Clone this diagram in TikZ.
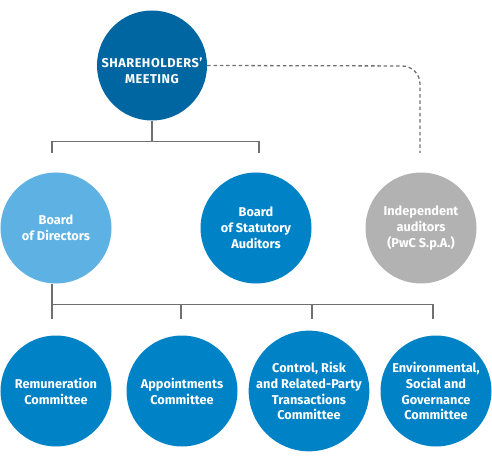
\documentclass[tikz,border=0pt]{standalone}
\usepackage{fontspec}
\setmainfont{Fira Sans}
\definecolor{cdark}{HTML}{0066A1}
\definecolor{cmid}{HTML}{0082C6}
\definecolor{clight}{HTML}{5DB2E3}
\definecolor{cgrey}{HTML}{B2B2B2}
\definecolor{cline}{HTML}{707070}
\begin{document}
\begin{tikzpicture}[x=1bp,y=-1bp,
  org/.style={circle,minimum size=111bp,inner sep=0pt,text=white,align=center,
    font=\fontsize{12.8}{16}\selectfont\bfseries},
  link/.style={draw=cline,line width=1.3bp},
  dlink/.style={draw=cline,line width=1.3bp,dash pattern=on 3.5bp off 2.8bp}]
\useasboundingbox (0,0) rectangle (492,456);
\node[org,fill=cdark,minimum size=110bp,
  label={[text=white,align=center,yshift=-5.5bp,
    font=\fontsize{12.8}{16}\selectfont\bfseries\addfontfeature{LetterSpace=4}]center:{SHAREHOLDERS'\\MEETING}}] (sm) at (152,65.5) {};
\node[org,fill=clight] (bd) at (56,228) {Board\\of Directors};
\node[org,fill=cmid] (bs) at (256,228) {Board\\of Statutory\\Auditors};
\node[org,fill=cgrey] (ia) at (421,228) {Independent\\auditors\\(PwC S.p.A.)};
\node[org,fill=cmid] (rc) at (56,391) {Remuneration\\Committee};
\node[org,fill=cmid] (ac) at (182,391) {Appointments\\Committee};
\node[org,fill=cmid] (cr) at (309,391) {Control, Risk\\and Related-Party\\Transactions\\Committee};
\node[org,fill=cmid] (es) at (436,391) {Environmental,\\Social and\\Governance\\Committee};
% top tree
\coordinate (t0) at (152,141.5);
\coordinate (tl) at (52,141.5);
\coordinate (tr) at (259,141.5);
\coordinate (tle) at (52,153);
\coordinate (tre) at (259,153);
\draw[link] (sm.south) -- (t0);
\draw[link] (tle) -- (tl) -- (tr) -- (tre);
% dashed
\coordinate (dc) at (420,66);
\coordinate (de) at (420,153);
\draw[dlink,rounded corners=18bp] (sm.east) -- (dc) -- (de);
% bottom tree
\coordinate (b0) at (52,304.5);
\coordinate (b1) at (181,304.5);
\coordinate (b2) at (312,304.5);
\coordinate (b3) at (433,304.5);
\coordinate (e0) at (52,319);
\coordinate (e1) at (181,319);
\coordinate (e2) at (312,319);
\coordinate (e3) at (433,319);
\draw[link] (bd.south -| b0) -- (e0);
\draw[link] (b0) -- (b3) -- (e3);
\draw[link] (b1) -- (e1);
\draw[link] (b2) -- (e2);
\end{tikzpicture}
\end{document}
